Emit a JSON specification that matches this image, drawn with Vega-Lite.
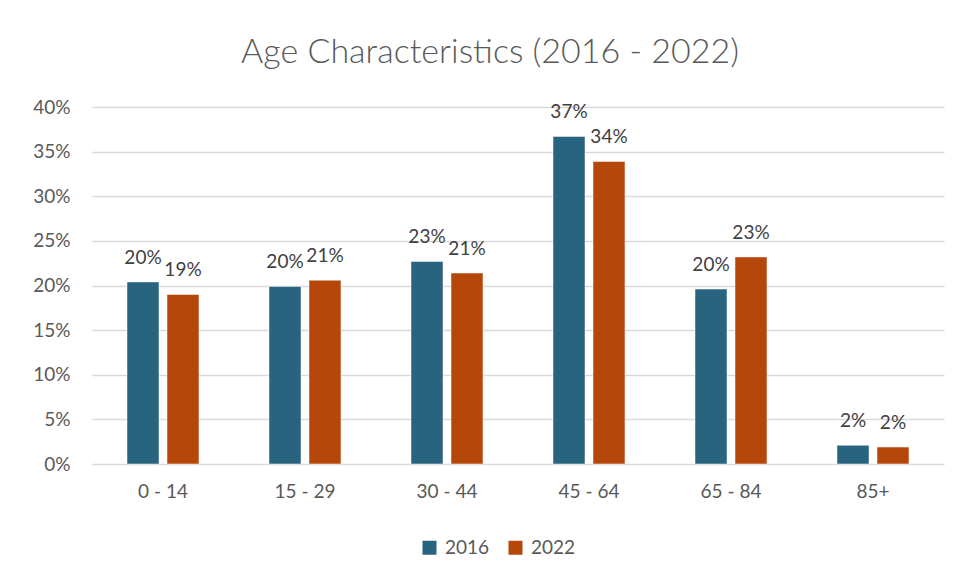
{
  "$schema": "https://vega.github.io/schema/vega-lite/v6.json",
  "autosize": {"type": "none"},
  "padding": {"left": 92, "top": 107, "right": 15, "bottom": 118},
  "width": 852,
  "height": 357,
  "background": "white",
  "title": {
    "text": "Age Characteristics (2016 - 2022)",
    "anchor": "middle",
    "frame": "group",
    "dx": -28,
    "offset": 1,
    "baseline": "alphabetic",
    "font": "Lato",
    "fontWeight": 300,
    "fontSize": 34,
    "color": "#595959"
  },
  "data": {
    "values": [
      {"age": "0 - 14", "year": "2016", "value": 0.204},
      {"age": "0 - 14", "year": "2022", "value": 0.190},
      {"age": "15 - 29", "year": "2016", "value": 0.199},
      {"age": "15 - 29", "year": "2022", "value": 0.206},
      {"age": "30 - 44", "year": "2016", "value": 0.227},
      {"age": "30 - 44", "year": "2022", "value": 0.214},
      {"age": "45 - 64", "year": "2016", "value": 0.367},
      {"age": "45 - 64", "year": "2022", "value": 0.339},
      {"age": "65 - 84", "year": "2016", "value": 0.196},
      {"age": "65 - 84", "year": "2022", "value": 0.232},
      {"age": "85+", "year": "2016", "value": 0.021},
      {"age": "85+", "year": "2022", "value": 0.019}
    ]
  },
  "encoding": {
    "x": {
      "field": "age",
      "type": "nominal",
      "sort": null,
      "scale": {"paddingInner": 0.493, "paddingOuter": 0.2465},
      "axis": {
        "title": null,
        "labelAngle": 0,
        "ticks": false,
        "domain": false,
        "labelPadding": 18,
        "labelFont": "Lato",
        "labelFontSize": 19,
        "labelColor": "#595959"
      }
    },
    "xOffset": {
      "field": "year",
      "type": "nominal",
      "scale": {"paddingInner": 0.2, "paddingOuter": 0}
    },
    "y": {
      "field": "value",
      "type": "quantitative",
      "scale": {"domain": [0, 0.4]},
      "axis": {
        "title": null,
        "format": ".0%",
        "values": [0, 0.05, 0.1, 0.15, 0.2, 0.25, 0.3, 0.35, 0.4],
        "ticks": false,
        "domain": false,
        "labelPadding": 22,
        "labelFont": "Lato",
        "labelFontSize": 19,
        "labelColor": "#595959",
        "gridColor": "#d9d9d9",
        "gridWidth": 1.5
      }
    }
  },
  "layer": [
    {
      "mark": {"type": "bar", "stroke": "white", "strokeWidth": 0.5},
      "encoding": {
        "color": {
          "field": "year",
          "type": "nominal",
          "scale": {"domain": ["2016", "2022"], "range": ["#28637f", "#b5470b"]},
          "legend": {
            "title": null,
            "orient": "none",
            "legendX": 328,
            "legendY": 431,
            "direction": "horizontal",
            "symbolType": "square",
            "symbolSize": 196,
            "symbolStrokeWidth": 0,
            "labelFont": "Lato",
            "labelFontSize": 19,
            "labelColor": "#595959",
            "labelOffset": 6,
            "columnPadding": 16
          }
        }
      }
    },
    {
      "mark": {
        "type": "text",
        "baseline": "alphabetic",
        "dy": -18,
        "font": "Lato",
        "fontSize": 19,
        "color": "#404040"
      },
      "encoding": {
        "text": {"field": "value", "type": "quantitative", "format": ".0%"}
      }
    }
  ],
  "config": {
    "view": {"stroke": null}
  }
}
